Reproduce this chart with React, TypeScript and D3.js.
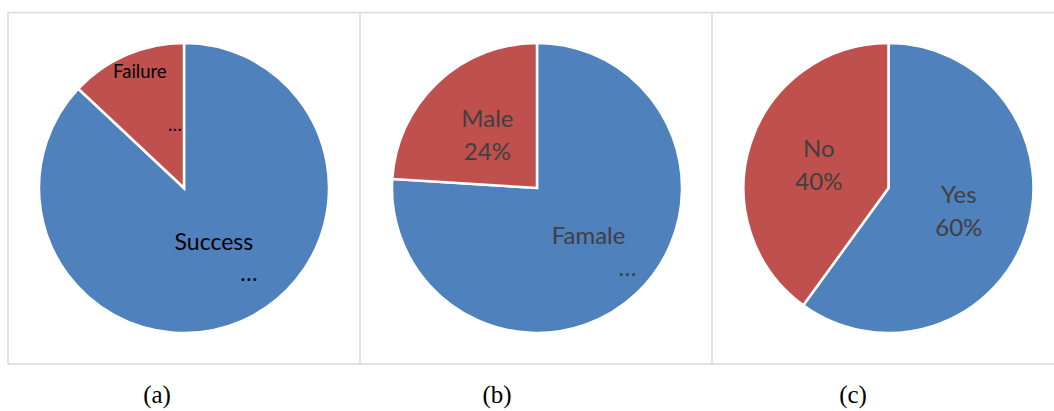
import React from "react";
import * as d3 from "d3";

// ---- data ----
const panelIds = ["a", "b", "c"];
const captions = ["(a)", "(b)", "(c)"];
const sliceNamesA = ["Success", "Failure"];
const sliceValuesA = [87, 13];
const sliceNamesB = ["Famale", "Male"];
const sliceValuesB = [76, 24];
const sliceNamesC = ["Yes", "No"];
const sliceValuesC = [60, 40];
// label text lines shown on each slice (as in the picture, some truncated)
const labelLinesA = [["Success", "…"], ["Failure", "…"]];
const labelLinesB = [["Famale", "…"], ["Male", "24%"]];
const labelLinesC = [["Yes", "60%"], ["No", "40%"]];

const colors = ["#4F81BD", "#C0504D"];

const W = 1054;
const H = 411;

type PanelCfg = {
  names: string[];
  values: number[];
  lines: string[][];
  cx: number;
  fontSize: number[];
  lineGap: number[];
  labelR: number[];
  lineDx: number[][];
  textColor: string;
  captionX: number;
};

const panels: PanelCfg[] = [
  {
    names: sliceNamesA,
    values: sliceValuesA,
    lines: labelLinesA,
    cx: 184,
    fontSize: [23, 18.5],
    lineGap: [31, 53],
    labelR: [0.52, 0.68],
    lineDx: [[0, 35], [-5, 30]],
    textColor: "#000000",
    captionX: 157,
  },
  {
    names: sliceNamesB,
    values: sliceValuesB,
    lines: labelLinesB,
    cx: 537,
    fontSize: [24, 24],
    lineGap: [32, 33],
    labelR: [0.6, 0.5],
    lineDx: [[-8, 31], [0, 0]],
    textColor: "#404040",
    captionX: 497,
  },
  {
    names: sliceNamesC,
    values: sliceValuesC,
    lines: labelLinesC,
    cx: 888.5,
    fontSize: [24, 24],
    lineGap: [33, 33],
    labelR: [0.51, 0.505],
    lineDx: [[0, 0], [0, 0]],
    textColor: "#404040",
    captionX: 853,
  },
];

const CY = 188;
const R = 145;
const FONT = "Lato, 'Open Sans', sans-serif";

function PiePanel({ cfg }: { cfg: PanelCfg }) {
  const pie = d3
    .pie<number>()
    .sort(null)
    .value((d) => d)
    .startAngle(0)
    .endAngle(2 * Math.PI);
  const arcs = pie(cfg.values);
  const arc = d3.arc<d3.PieArcDatum<number>>().innerRadius(0).outerRadius(R);
  return (
    <g transform={`translate(${cfg.cx},${CY})`}>
      {arcs.map((a, i) => (
        <path
          key={"s" + i}
          d={arc(a) || ""}
          fill={colors[i]}
          stroke="#ffffff"
          strokeWidth={2.5}
          strokeLinejoin="miter"
        />
      ))}
      {arcs.map((a, i) => {
        const lr = R * cfg.labelR[i];
        const la = d3.arc<d3.PieArcDatum<number>>().innerRadius(lr).outerRadius(lr);
        const [x, y] = la.centroid(a);
        const fs = cfg.fontSize[i];
        const lines = cfg.lines[i];
        const gap = cfg.lineGap[i];
        const totalH = gap * (lines.length - 1);
        return (
          <g key={"l" + i}>
            {lines.map((t, j) => (
              <text
                key={j}
                x={x + cfg.lineDx[i][j]}
                y={y - totalH / 2 + j * gap + fs * 0.35}
                textAnchor="middle"
                fontFamily={FONT}
                fontSize={fs}
                fill={cfg.textColor}
              >
                {t}
              </text>
            ))}
          </g>
        );
      })}
    </g>
  );
}

export default function App() {
  const top = 12.5;
  const bottom = 364;
  const xs = [8, 360, 712];
  return (
    <svg
      width={W}
      height={H}
      viewBox={`0 0 ${W} ${H}`}
      style={{ position: "absolute", left: 0, top: 0, background: "#ffffff" }}
    >
      <rect x={0} y={0} width={W} height={H} fill="#ffffff" />
      {/* panel frames */}
      <line x1={xs[0]} x2={W} y1={top} y2={top} stroke="#d9d9d9" strokeWidth={1.5} />
      <line x1={xs[0]} x2={W} y1={bottom} y2={bottom} stroke="#d9d9d9" strokeWidth={1.5} />
      {xs.map((x, i) => (
        <line key={i} x1={x} x2={x} y1={top} y2={bottom} stroke="#d9d9d9" strokeWidth={1.5} />
      ))}
      {panels.map((p, i) => (
        <PiePanel key={panelIds[i]} cfg={p} />
      ))}
      {panels.map((p, i) => (
        <text
          key={"c" + i}
          x={p.captionX}
          y={403}
          textAnchor="middle"
          fontFamily="'Liberation Serif', 'Times New Roman', serif"
          fontSize={25}
          fill="#000000"
        >
          {captions[i]}
        </text>
      ))}
    </svg>
  );
}
